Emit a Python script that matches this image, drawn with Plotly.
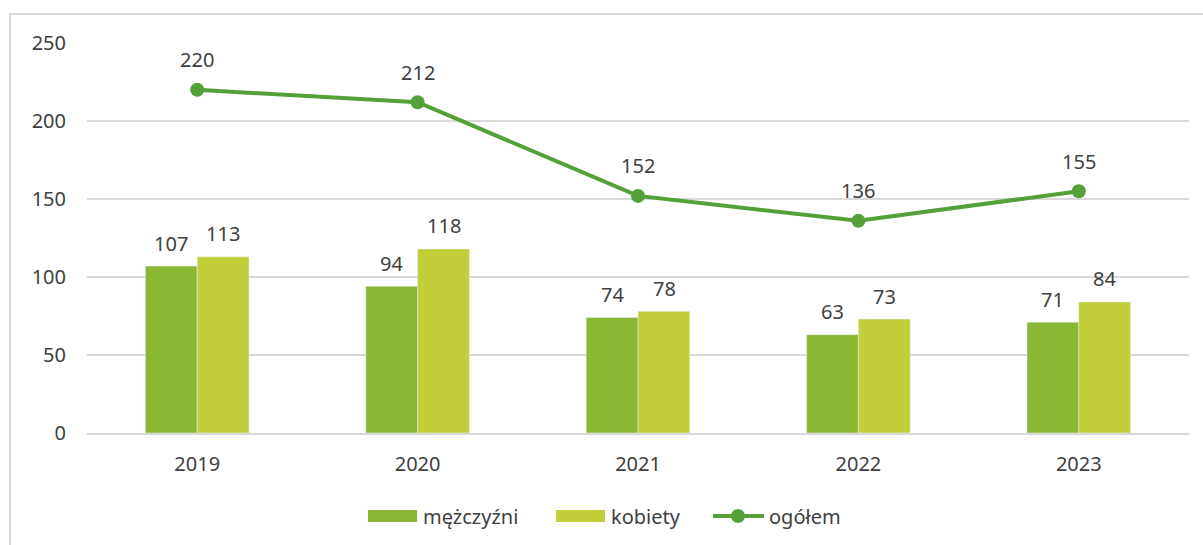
import plotly.graph_objects as go

years = ["2019", "2020", "2021", "2022", "2023"]
men = [107, 94, 74, 63, 71]
women = [113, 118, 78, 73, 84]
total = [220, 212, 152, 136, 155]
legend_names = ["mężczyźni", "kobiety", "ogółem"]

C_MEN = "#8BB735"
C_WOMEN = "#C2CF3B"
C_TOTAL = "#55A03A"
TXT = "#404040"
FONT = "Noto Sans"
FS = 20

W, H = 1203, 545
L, R, T, B = 87, 14, 43, 112
pw, ph = W - L - R, H - T - B


def px(x):
    return (x - L) / pw


def py(y):
    return (H - B - y) / ph


fig = go.Figure()
fig.add_trace(go.Bar(x=years, y=men, name=legend_names[0], marker_color=C_MEN))
fig.add_trace(go.Bar(x=years, y=women, name=legend_names[1], marker_color=C_WOMEN))
fig.add_trace(go.Scatter(x=years, y=total, name=legend_names[2], mode="lines+markers",
                         line=dict(color=C_TOTAL, width=4),
                         marker=dict(color=C_TOTAL, size=14), cliponaxis=False))
for i, v in enumerate(total):
    fig.add_annotation(x=i, y=v, text=str(v), showarrow=False, yshift=30,
                       font=dict(size=FS, color=TXT, family=FONT))
for vals, xs in ((men, -26), (women, 26)):
    for i, v in enumerate(vals):
        fig.add_annotation(x=i, y=v, text=str(v), showarrow=False, yshift=23,
                           xshift=xs, font=dict(size=FS, color=TXT, family=FONT))

# outer frame
fig.add_shape(type="rect", xref="paper", yref="paper",
              x0=px(10), x1=px(W + 20), y0=py(H + 20), y1=py(14),
              line=dict(color="#D9D9D9", width=2), layer="below")

# custom legend
ly = 516
fig.add_shape(type="rect", xref="paper", yref="paper", x0=px(368), x1=px(417),
              y0=py(522), y1=py(510), fillcolor=C_MEN, line=dict(width=0))
fig.add_shape(type="rect", xref="paper", yref="paper", x0=px(556), x1=px(605),
              y0=py(522), y1=py(510), fillcolor=C_WOMEN, line=dict(width=0))
fig.add_shape(type="line", xref="paper", yref="paper", x0=px(713), x1=px(764),
              y0=py(ly), y1=py(ly), line=dict(color=C_TOTAL, width=4))
fig.add_shape(type="circle", xref="paper", yref="paper", x0=px(731), x1=px(745),
              y0=py(ly + 7), y1=py(ly - 7), fillcolor=C_TOTAL, line=dict(width=0))
for xs, name in zip([421, 609, 767], legend_names):
    fig.add_annotation(xref="paper", yref="paper", x=px(xs), y=py(ly), text=name,
                       xanchor="left", yanchor="middle", showarrow=False,
                       font=dict(size=FS, color=TXT, family=FONT))

fig.update_layout(
    width=W, height=H,
    margin=dict(l=L, r=R, t=T, b=B),
    paper_bgcolor="white", plot_bgcolor="white",
    barmode="group", bargap=0.53, bargroupgap=0,
    font=dict(family=FONT, size=FS, color=TXT),
    showlegend=False,
)
fig.update_yaxes(range=[0, 250], dtick=50, showgrid=True, gridcolor="#D9D9D9",
                 gridwidth=1.5, zeroline=False, showline=False,
                 ticks="", ticklabelstandoff=20,
                 tickfont=dict(size=FS, color=TXT, family=FONT))
fig.update_xaxes(type="category", range=[-0.5, len(years) - 0.5],
                 showline=True, linecolor="#D9D9D9", linewidth=2,
                 ticks="", ticklabelstandoff=12,
                 tickfont=dict(size=FS, color=TXT, family=FONT))

fig.write_html("out.html", config={"displayModeBar": False},
               post_script="document.body.style.margin='0';document.body.style.overflow='hidden';")
